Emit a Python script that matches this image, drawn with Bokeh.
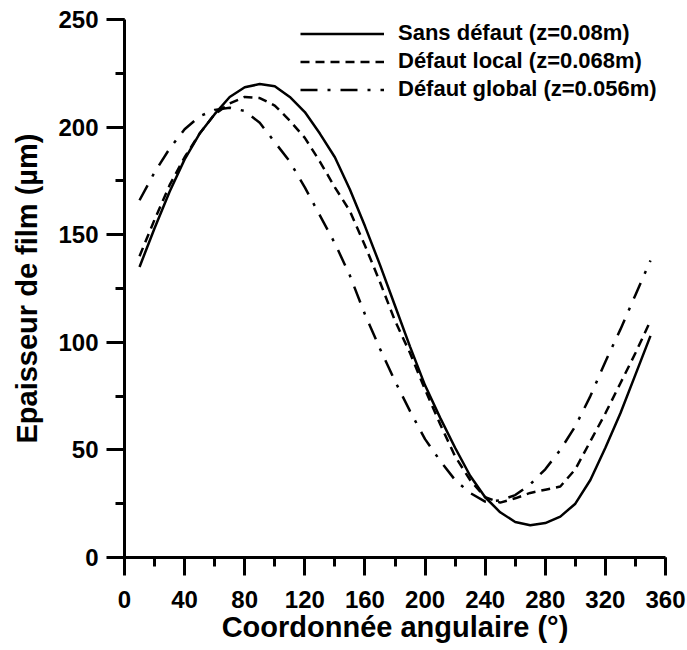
from bokeh.plotting import figure
from bokeh.models import Range1d, SingleIntervalTicker, Legend, LegendItem
from bokeh.embed import file_html
from bokeh.resources import INLINE

angles = [10, 20, 30, 40, 50, 60, 70, 80, 90, 100, 110, 120, 130, 140, 150, 160, 170, 180,
          190, 200, 210, 220, 230, 240, 250, 260, 270, 280, 290, 300, 310, 320, 330, 340, 350]

sans_defaut = [135, 153, 170, 185, 197, 206, 214, 218.5, 220, 219, 214, 207, 197, 186, 171, 154, 136, 117,
               98, 80, 65, 51, 38, 28, 21, 16.5, 15, 16, 19, 25, 36, 51, 67, 85, 103]

defaut_local = [140, 157, 173, 186, 197, 206, 211, 214, 213.5, 210, 203, 195, 184, 172, 161, 145, 128, 110,
                95, 78, 62, 47, 36, 28, 25.5, 27.5, 30, 31.5, 33, 41, 54, 67, 81, 95, 110]

defaut_global = [166, 179, 190, 199, 205, 208, 209, 207.5, 202, 193, 184, 172, 159, 146, 131, 113, 97, 82,
                 68, 55, 45, 36, 30, 26, 26.5, 29, 34, 41, 50, 61, 75, 91, 106, 122, 138]

labels = ["Sans défaut (z=0.08m)", "Défaut local (z=0.068m)", "Défaut global (z=0.056m)"]

FONT = "Liberation Sans"

p = figure(width=687, height=650, output_backend="svg", toolbar_location=None,
           x_range=Range1d(0, 360), y_range=Range1d(0, 250),
           min_border_left=124, min_border_right=22, min_border_top=19, min_border_bottom=93)
p.outline_line_color = None
p.xgrid.visible = False
p.ygrid.visible = False

r1 = p.line(angles, sans_defaut, line_color="black", line_width=2.5)
r2 = p.line(angles, defaut_local, line_color="black", line_width=2.5, line_dash="9 6")
r3 = p.line(angles, defaut_global, line_color="black", line_width=2.5, line_dash="17 10 3 10")

p.xaxis[0].ticker = SingleIntervalTicker(interval=40, num_minor_ticks=2)
p.yaxis[0].ticker = SingleIntervalTicker(interval=50, num_minor_ticks=2)

for ax in (p.xaxis[0], p.yaxis[0]):
    ax.axis_line_width = 3
    ax.major_tick_line_width = 3
    ax.minor_tick_line_width = 3
    ax.major_tick_out = 18
    ax.major_tick_in = 0
    ax.minor_tick_out = 9
    ax.minor_tick_in = 0
    ax.major_label_text_font = FONT
    ax.major_label_text_font_style = "bold"
    ax.major_label_text_font_size = "24px"
    ax.major_label_text_color = "black"
    ax.axis_label_text_font = FONT
    ax.axis_label_text_font_style = "bold"
    ax.axis_label_text_font_size = "29px"
    ax.axis_label_text_color = "black"

p.xaxis[0].axis_label = "Coordonnée angulaire (°)"
p.yaxis[0].axis_label = "Epaisseur de film (µm)"
p.xaxis[0].major_label_standoff = 15
p.xaxis[0].axis_label_standoff = 0
p.yaxis[0].major_label_standoff = 8
p.yaxis[0].axis_label_standoff = 12

legend = Legend(items=[LegendItem(label=labels[0], renderers=[r1]),
                       LegendItem(label=labels[1], renderers=[r2]),
                       LegendItem(label=labels[2], renderers=[r3])],
                location=(176, 455))
legend.border_line_color = None
legend.background_fill_alpha = 0
legend.padding = 0
legend.margin = 0
legend.spacing = 2
legend.glyph_width = 84
legend.glyph_height = 25
legend.label_standoff = 14
legend.label_text_font = FONT
legend.label_text_font_style = "bold"
legend.label_text_font_size = "22px"
legend.label_text_color = "black"
legend.label_height = 25
p.add_layout(legend, "center")

open("out.html", "w").write(file_html(p, INLINE))
